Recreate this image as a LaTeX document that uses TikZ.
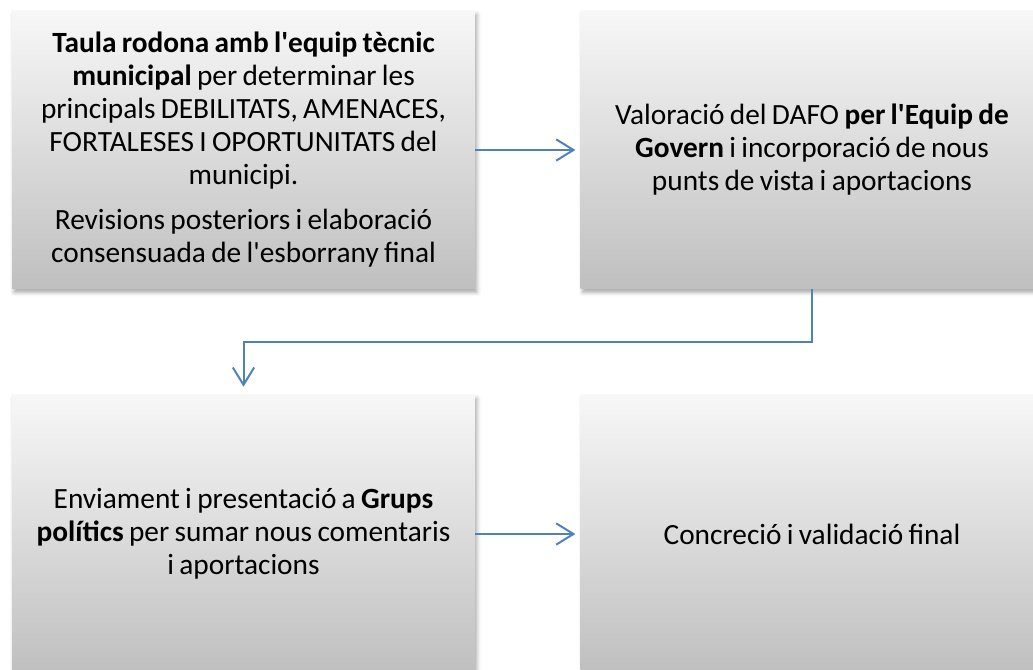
\documentclass[tikz,border=0pt]{standalone}
\usepackage{fontspec}
\setmainfont{Carlito}[WordSpace=0.8]
\usetikzlibrary{arrows.meta,shadows.blur}
\definecolor{flowblue}{HTML}{4F81BD}
\newcommand{\apos}{\textquotesingle}
\tikzset{
  stage/.style={rectangle, top color=black!3, bottom color=black!25,
                minimum width=347pt, minimum height=208.5pt, align=center,
                font=\fontsize{22}{24.75}\selectfont,
                blur shadow={shadow xshift=1.5pt, shadow yshift=-2.5pt, shadow blur radius=3pt, shadow opacity=35}},
  flow/.style={-{Straight Barb[length=13pt, width=16pt, line width=1.5pt]}, line width=1.5pt, flowblue},
}
\begin{document}
\begin{tikzpicture}[x=0.75pt, y=-0.75pt]
\useasboundingbox (0,0) rectangle (1033,670);

% Stages
\node[stage] (taula) at (243.5,150) {\textbf{Taula rodona amb l\apos equip tècnic}\\
\textbf{municipal} per determinar les\\
principals DEBILITATS, AMENACES,\\
FORTALESES I OPORTUNITATS del\\
municipi.\\[9pt]
Revisions posteriors i elaboració\\
consensuada de l\apos esborrany final};
\node[stage] (valoracio) at (812,150) {Valoració del DAFO \textbf{per l\apos Equip de}\\
\textbf{Govern} i incorporació de nous\\
punts de vista i aportacions};
\node[stage] (enviament) at (243.5,534) {Enviament i presentació a \textbf{Grups}\\
\textbf{polítics} per sumar nous comentaris\\
i aportacions};
\node[stage] (concrecio) at (812,534) {Concreció i validació final};

% Flow
\draw[flow, shorten >=3.75pt] (taula) -- (valoracio);
\draw[flow, shorten >=6pt] (valoracio.south) -- ++(0,53) -| (enviament.north);
\draw[flow, shorten >=3.75pt] (enviament) -- (concrecio);
\end{tikzpicture}
\end{document}
